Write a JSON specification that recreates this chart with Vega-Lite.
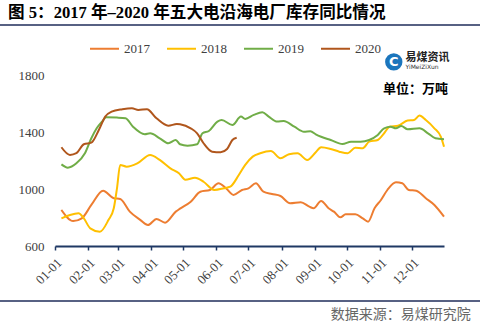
{
  "$schema": "https://vega.github.io/schema/vega-lite/v6.json",
  "width": 389,
  "height": 171,
  "autosize": {"type": "none"},
  "padding": {"left": 55, "top": 75, "right": 36, "bottom": 82},
  "background": "white",
  "title": {
    "text": "图 5：2017 年–2020 年五大电沿海电厂库存同比情况",
    "anchor": "start",
    "frame": "group",
    "dx": -47,
    "offset": 3,
    "font": "Liberation Serif, Noto Sans CJK SC",
    "fontSize": 16.6,
    "fontWeight": "bold",
    "color": "#000000"
  },
  "config": {"view": {"stroke": null}},
  "layer": [
    {
      "data": {"values": [
        {"date": "2001-01-07", "year": "2017", "v": 853},
        {"date": "2001-01-18", "year": "2017", "v": 775},
        {"date": "2001-01-26", "year": "2017", "v": 794},
        {"date": "2001-02-04", "year": "2017", "v": 888},
        {"date": "2001-02-15", "year": "2017", "v": 988},
        {"date": "2001-02-25", "year": "2017", "v": 935},
        {"date": "2001-03-03", "year": "2017", "v": 930},
        {"date": "2001-03-12", "year": "2017", "v": 841},
        {"date": "2001-03-22", "year": "2017", "v": 782},
        {"date": "2001-03-29", "year": "2017", "v": 747},
        {"date": "2001-04-06", "year": "2017", "v": 790},
        {"date": "2001-04-14", "year": "2017", "v": 764},
        {"date": "2001-04-24", "year": "2017", "v": 841},
        {"date": "2001-04-28", "year": "2017", "v": 862},
        {"date": "2001-05-08", "year": "2017", "v": 911},
        {"date": "2001-05-17", "year": "2017", "v": 981},
        {"date": "2001-05-26", "year": "2017", "v": 993},
        {"date": "2001-06-03", "year": "2017", "v": 1040},
        {"date": "2001-06-10", "year": "2017", "v": 1005},
        {"date": "2001-06-17", "year": "2017", "v": 958},
        {"date": "2001-06-25", "year": "2017", "v": 993},
        {"date": "2001-07-01", "year": "2017", "v": 1005},
        {"date": "2001-07-08", "year": "2017", "v": 1040},
        {"date": "2001-07-15", "year": "2017", "v": 981},
        {"date": "2001-07-23", "year": "2017", "v": 965},
        {"date": "2001-07-31", "year": "2017", "v": 951},
        {"date": "2001-08-09", "year": "2017", "v": 900},
        {"date": "2001-08-19", "year": "2017", "v": 907},
        {"date": "2001-08-27", "year": "2017", "v": 876},
        {"date": "2001-08-31", "year": "2017", "v": 865},
        {"date": "2001-09-07", "year": "2017", "v": 916},
        {"date": "2001-09-14", "year": "2017", "v": 865},
        {"date": "2001-09-19", "year": "2017", "v": 841},
        {"date": "2001-09-25", "year": "2017", "v": 801},
        {"date": "2001-09-30", "year": "2017", "v": 822},
        {"date": "2001-10-09", "year": "2017", "v": 822},
        {"date": "2001-10-16", "year": "2017", "v": 794},
        {"date": "2001-10-21", "year": "2017", "v": 771},
        {"date": "2001-10-27", "year": "2017", "v": 865},
        {"date": "2001-11-02", "year": "2017", "v": 923},
        {"date": "2001-11-08", "year": "2017", "v": 993},
        {"date": "2001-11-16", "year": "2017", "v": 1047},
        {"date": "2001-11-22", "year": "2017", "v": 1040},
        {"date": "2001-11-28", "year": "2017", "v": 993},
        {"date": "2001-12-05", "year": "2017", "v": 988},
        {"date": "2001-12-14", "year": "2017", "v": 935},
        {"date": "2001-12-22", "year": "2017", "v": 888},
        {"date": "2001-12-31", "year": "2017", "v": 806},

        {"date": "2001-01-07", "year": "2018", "v": 794},
        {"date": "2001-01-15", "year": "2018", "v": 818},
        {"date": "2001-01-23", "year": "2018", "v": 830},
        {"date": "2001-01-28", "year": "2018", "v": 794},
        {"date": "2001-02-03", "year": "2018", "v": 724},
        {"date": "2001-02-12", "year": "2018", "v": 700},
        {"date": "2001-02-20", "year": "2018", "v": 782},
        {"date": "2001-02-25", "year": "2018", "v": 865},
        {"date": "2001-02-28", "year": "2018", "v": 1005},
        {"date": "2001-03-03", "year": "2018", "v": 1169},
        {"date": "2001-03-09", "year": "2018", "v": 1157},
        {"date": "2001-03-19", "year": "2018", "v": 1180},
        {"date": "2001-03-31", "year": "2018", "v": 1239},
        {"date": "2001-04-09", "year": "2018", "v": 1204},
        {"date": "2001-04-19", "year": "2018", "v": 1145},
        {"date": "2001-04-27", "year": "2018", "v": 1110},
        {"date": "2001-05-03", "year": "2018", "v": 1065},
        {"date": "2001-05-12", "year": "2018", "v": 1079},
        {"date": "2001-05-20", "year": "2018", "v": 1051},
        {"date": "2001-05-30", "year": "2018", "v": 993},
        {"date": "2001-06-08", "year": "2018", "v": 1005},
        {"date": "2001-06-14", "year": "2018", "v": 1016},
        {"date": "2001-06-22", "year": "2018", "v": 1098},
        {"date": "2001-06-28", "year": "2018", "v": 1169},
        {"date": "2001-07-05", "year": "2018", "v": 1227},
        {"date": "2001-07-12", "year": "2018", "v": 1251},
        {"date": "2001-07-22", "year": "2018", "v": 1267},
        {"date": "2001-07-31", "year": "2018", "v": 1216},
        {"date": "2001-08-08", "year": "2018", "v": 1244},
        {"date": "2001-08-16", "year": "2018", "v": 1251},
        {"date": "2001-08-25", "year": "2018", "v": 1204},
        {"date": "2001-09-02", "year": "2018", "v": 1258},
        {"date": "2001-09-07", "year": "2018", "v": 1293},
        {"date": "2001-09-16", "year": "2018", "v": 1281},
        {"date": "2001-09-24", "year": "2018", "v": 1262},
        {"date": "2001-10-02", "year": "2018", "v": 1251},
        {"date": "2001-10-09", "year": "2018", "v": 1290},
        {"date": "2001-10-16", "year": "2018", "v": 1286},
        {"date": "2001-10-22", "year": "2018", "v": 1332},
        {"date": "2001-10-30", "year": "2018", "v": 1344},
        {"date": "2001-11-05", "year": "2018", "v": 1391},
        {"date": "2001-11-10", "year": "2018", "v": 1437},
        {"date": "2001-11-18", "year": "2018", "v": 1444},
        {"date": "2001-11-27", "year": "2018", "v": 1480},
        {"date": "2001-12-03", "year": "2018", "v": 1484},
        {"date": "2001-12-08", "year": "2018", "v": 1515},
        {"date": "2001-12-14", "year": "2018", "v": 1484},
        {"date": "2001-12-22", "year": "2018", "v": 1426},
        {"date": "2001-12-28", "year": "2018", "v": 1367},
        {"date": "2001-12-31", "year": "2018", "v": 1297},

        {"date": "2001-01-07", "year": "2019", "v": 1173},
        {"date": "2001-01-13", "year": "2019", "v": 1150},
        {"date": "2001-01-21", "year": "2019", "v": 1180},
        {"date": "2001-01-29", "year": "2019", "v": 1251},
        {"date": "2001-02-04", "year": "2019", "v": 1356},
        {"date": "2001-02-09", "year": "2019", "v": 1426},
        {"date": "2001-02-14", "year": "2019", "v": 1473},
        {"date": "2001-02-18", "year": "2019", "v": 1503},
        {"date": "2001-02-28", "year": "2019", "v": 1501},
        {"date": "2001-03-08", "year": "2019", "v": 1496},
        {"date": "2001-03-15", "year": "2019", "v": 1437},
        {"date": "2001-03-26", "year": "2019", "v": 1384},
        {"date": "2001-03-31", "year": "2019", "v": 1391},
        {"date": "2001-04-09", "year": "2019", "v": 1356},
        {"date": "2001-04-17", "year": "2019", "v": 1321},
        {"date": "2001-04-24", "year": "2019", "v": 1344},
        {"date": "2001-04-28", "year": "2019", "v": 1314},
        {"date": "2001-05-05", "year": "2019", "v": 1304},
        {"date": "2001-05-14", "year": "2019", "v": 1314},
        {"date": "2001-05-19", "year": "2019", "v": 1391},
        {"date": "2001-05-25", "year": "2019", "v": 1407},
        {"date": "2001-06-02", "year": "2019", "v": 1473},
        {"date": "2001-06-06", "year": "2019", "v": 1484},
        {"date": "2001-06-16", "year": "2019", "v": 1449},
        {"date": "2001-06-24", "year": "2019", "v": 1508},
        {"date": "2001-06-28", "year": "2019", "v": 1492},
        {"date": "2001-07-06", "year": "2019", "v": 1520},
        {"date": "2001-07-14", "year": "2019", "v": 1539},
        {"date": "2001-07-20", "year": "2019", "v": 1508},
        {"date": "2001-07-28", "year": "2019", "v": 1473},
        {"date": "2001-08-03", "year": "2019", "v": 1477},
        {"date": "2001-08-13", "year": "2019", "v": 1437},
        {"date": "2001-08-22", "year": "2019", "v": 1402},
        {"date": "2001-08-28", "year": "2019", "v": 1405},
        {"date": "2001-09-02", "year": "2019", "v": 1384},
        {"date": "2001-09-07", "year": "2019", "v": 1367},
        {"date": "2001-09-16", "year": "2019", "v": 1344},
        {"date": "2001-09-27", "year": "2019", "v": 1316},
        {"date": "2001-10-05", "year": "2019", "v": 1332},
        {"date": "2001-10-14", "year": "2019", "v": 1332},
        {"date": "2001-10-22", "year": "2019", "v": 1344},
        {"date": "2001-10-30", "year": "2019", "v": 1379},
        {"date": "2001-11-05", "year": "2019", "v": 1426},
        {"date": "2001-11-11", "year": "2019", "v": 1437},
        {"date": "2001-11-16", "year": "2019", "v": 1426},
        {"date": "2001-11-21", "year": "2019", "v": 1442},
        {"date": "2001-11-27", "year": "2019", "v": 1419},
        {"date": "2001-12-08", "year": "2019", "v": 1426},
        {"date": "2001-12-16", "year": "2019", "v": 1391},
        {"date": "2001-12-23", "year": "2019", "v": 1356},
        {"date": "2001-12-31", "year": "2019", "v": 1349},

        {"date": "2001-01-07", "year": "2020", "v": 1293},
        {"date": "2001-01-15", "year": "2020", "v": 1239},
        {"date": "2001-01-21", "year": "2020", "v": 1251},
        {"date": "2001-01-28", "year": "2020", "v": 1314},
        {"date": "2001-02-04", "year": "2020", "v": 1325},
        {"date": "2001-02-11", "year": "2020", "v": 1414},
        {"date": "2001-02-17", "year": "2020", "v": 1508},
        {"date": "2001-02-23", "year": "2020", "v": 1543},
        {"date": "2001-03-05", "year": "2020", "v": 1560},
        {"date": "2001-03-14", "year": "2020", "v": 1567},
        {"date": "2001-03-20", "year": "2020", "v": 1555},
        {"date": "2001-03-28", "year": "2020", "v": 1560},
        {"date": "2001-04-06", "year": "2020", "v": 1496},
        {"date": "2001-04-17", "year": "2020", "v": 1444},
        {"date": "2001-04-25", "year": "2020", "v": 1456},
        {"date": "2001-04-28", "year": "2020", "v": 1454},
        {"date": "2001-05-08", "year": "2020", "v": 1426},
        {"date": "2001-05-14", "year": "2020", "v": 1391},
        {"date": "2001-05-20", "year": "2020", "v": 1321},
        {"date": "2001-05-28", "year": "2020", "v": 1262},
        {"date": "2001-06-05", "year": "2020", "v": 1258},
        {"date": "2001-06-11", "year": "2020", "v": 1281},
        {"date": "2001-06-16", "year": "2020", "v": 1344},
        {"date": "2001-06-20", "year": "2020", "v": 1360}
      ]},
      "mark": {"type": "line", "strokeWidth": 2, "interpolate": "monotone"},
      "encoding": {
        "x": {
          "field": "date",
          "type": "temporal",
          "scale": {"type": "utc", "domain": [{"year": 2001, "month": 1, "date": 1, "utc": true}, {"year": 2001, "month": 12, "date": 31, "utc": true}]},
          "axis": {
            "title": null,
            "format": "%m-%d",
            "tickCount": {"interval": "month", "step": 1},
            "labelOverlap": false,
            "labelAngle": -45,
            "labelFont": "Liberation Serif",
            "labelFontSize": 13,
            "labelColor": "#404040",
            "labelPadding": 6,
            "domainColor": "#1F3864",
            "domainWidth": 2,
            "tickColor": "#1F3864",
            "tickSize": 4,
            "tickWidth": 1.5,
            "grid": false
          }
        },
        "y": {
          "field": "v",
          "type": "quantitative",
          "scale": {"domain": [600, 1800], "nice": false, "zero": false},
          "axis": {
            "title": null,
            "values": [600, 1000, 1400, 1800],
            "format": "d",
            "domain": false,
            "ticks": false,
            "grid": false,
            "labelFont": "Liberation Serif",
            "labelFontSize": 13,
            "labelColor": "#404040",
            "labelPadding": 11
          }
        },
        "color": {
          "field": "year",
          "type": "nominal",
          "scale": {"domain": ["2017", "2018", "2019", "2020"], "range": ["#ED7D31", "#FFC000", "#70AD47", "#B0561C"]},
          "legend": {
            "title": null,
            "orient": "none",
            "legendX": 34,
            "legendY": -42,
            "direction": "horizontal",
            "columns": 4,
            "symbolType": "stroke",
            "symbolSize": 841,
            "symbolStrokeWidth": 2,
            "labelOffset": 4,
            "columnPadding": 13,
            "labelFont": "Liberation Serif",
            "labelFontSize": 13,
            "labelColor": "#404040"
          }
        }
      }
    },
    {
      "data": {"values": [{"t": "单位：万吨"}]},
      "mark": {"type": "text", "align": "left", "baseline": "middle", "font": "Noto Sans CJK SC", "fontSize": 13, "fontWeight": "bold", "color": "#000000"},
      "encoding": {
        "x": {"datum": {"year": 2001, "month": 11, "date": 4, "utc": true}, "type": "temporal"},
        "y": {"datum": 1702, "type": "quantitative"},
        "text": {"field": "t"}
      }
    },
    {
      "data": {"values": [{"t": "易煤资讯"}]},
      "mark": {"type": "text", "align": "left", "baseline": "middle", "font": "Noto Sans CJK SC", "fontSize": 11, "fontWeight": "bold", "color": "#222222"},
      "encoding": {
        "x": {"datum": {"year": 2001, "month": 11, "date": 25, "utc": true}, "type": "temporal"},
        "y": {"datum": 1920, "type": "quantitative"},
        "text": {"field": "t"}
      }
    },
    {
      "data": {"values": [{"t": "YiMeiZiXun"}]},
      "mark": {"type": "text", "align": "left", "baseline": "middle", "font": "DejaVu Sans", "fontSize": 6, "color": "#333333"},
      "encoding": {
        "x": {"datum": {"year": 2001, "month": 11, "date": 25, "utc": true}, "type": "temporal"},
        "y": {"datum": 1855, "type": "quantitative"},
        "text": {"field": "t"}
      }
    },
    {
      "data": {"values": [{"k": "logo"}]},
      "mark": {"type": "point", "filled": true, "shape": "circle", "size": 300, "color": "#1B75BC", "opacity": 1},
      "encoding": {
        "x": {"datum": {"year": 2001, "month": 11, "date": 14, "utc": true}, "type": "temporal"},
        "y": {"datum": 1892, "type": "quantitative"}
      }
    },
    {
      "data": {"values": [{"t": "C"}]},
      "mark": {"type": "text", "align": "center", "baseline": "middle", "font": "DejaVu Sans", "fontSize": 13, "fontWeight": "bold", "color": "#FFFFFF"},
      "encoding": {
        "x": {"datum": {"year": 2001, "month": 11, "date": 14, "utc": true}, "type": "temporal"},
        "y": {"datum": 1888, "type": "quantitative"},
        "text": {"field": "t"}
      }
    },
    {
      "data": {"values": [{"y": 2151}, {"y": 214}]},
      "mark": {"type": "rule", "color": "#1F2D5A", "strokeWidth": 1.5},
      "encoding": {
        "x": {"datum": {"year": 2000, "month": 11, "date": 10, "utc": true}, "type": "temporal"},
        "x2": {"datum": {"year": 2002, "month": 2, "date": 4, "utc": true}},
        "y": {"field": "y", "type": "quantitative"}
      }
    },
    {
      "data": {"values": [{"t": "数据来源：易煤研究院"}]},
      "mark": {"type": "text", "align": "right", "baseline": "middle", "font": "Noto Sans CJK SC", "fontSize": 14, "color": "#666666"},
      "encoding": {
        "x": {"datum": {"year": 2002, "month": 1, "date": 25, "utc": true}, "type": "temporal"},
        "y": {"datum": 116, "type": "quantitative"},
        "text": {"field": "t"}
      }
    }
  ]
}
